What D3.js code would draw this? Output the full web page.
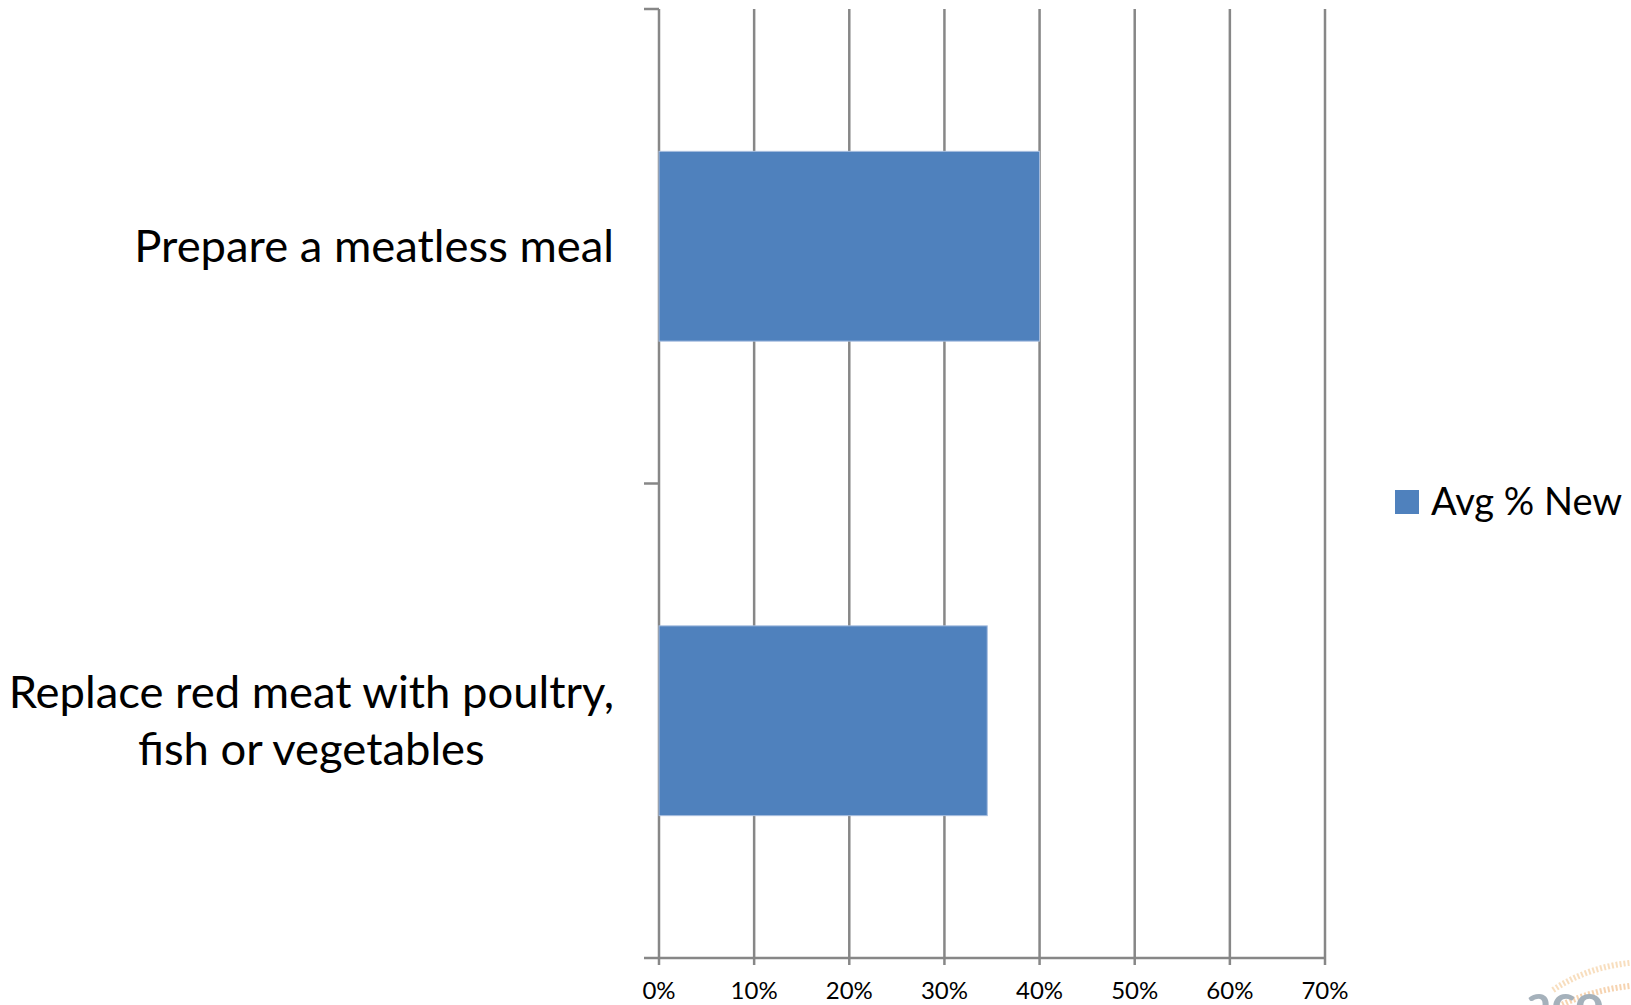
<!DOCTYPE html>
<html>
<head>
<meta charset="utf-8">
<script src="https://cdn.jsdelivr.net/npm/d3@7"></script>
<style>
  body { margin: 0; background: #fff; }
  svg { display: block; font-family: Lato, "Open Sans", sans-serif; }
</style>
</head>
<body>
<div id="chart"></div>
<script>
var categories = [
    ["Prepare a meatless meal"],
    ["Replace red meat with poultry,", "fish or vegetables"]
];
var values = [0.40, 0.345];
var seriesName = "Avg % New";
var tickValues = [0, 0.1, 0.2, 0.3, 0.4, 0.5, 0.6, 0.7];

var width = 1631, height = 1005;
var plotLeft = 659, plotRight = 1325, plotTop = 9, plotBottom = 958;
var gridColor = "#878787";
var barColor = "#4f81bd";

var svg = d3.select("#chart").append("svg")
    .attr("width", width)
    .attr("height", height);

var x = d3.scaleLinear().domain([0, 0.7]).range([plotLeft, plotRight]);
var y = d3.scaleBand()
    .domain(d3.range(categories.length))
    .range([plotTop, plotBottom])
    .paddingInner(0.6)
    .paddingOuter(0.3);

// vertical gridlines
svg.append("g").selectAll("line")
    .data(tickValues)
    .enter().append("line")
    .attr("x1", d => x(d)).attr("x2", d => x(d))
    .attr("y1", plotTop).attr("y2", plotBottom + 7)
    .attr("stroke", gridColor)
    .attr("stroke-width", 2.5);

// bottom axis line
svg.append("line")
    .attr("x1", plotLeft).attr("x2", plotRight)
    .attr("y1", plotBottom).attr("y2", plotBottom)
    .attr("stroke", gridColor)
    .attr("stroke-width", 2.5);

// category ticks at band edges
var edges = d3.range(categories.length + 1).map(i => plotTop + i * y.step());
svg.append("g").selectAll("line")
    .data(edges)
    .enter().append("line")
    .attr("x1", plotLeft - 15).attr("x2", plotLeft)
    .attr("y1", d => d).attr("y2", d => d)
    .attr("stroke", gridColor)
    .attr("stroke-width", 2.5);

// bars
svg.append("g").selectAll("rect")
    .data(values)
    .enter().append("rect")
    .attr("x", x(0))
    .attr("y", (d, i) => y(i))
    .attr("width", d => x(d) - x(0))
    .attr("height", y.bandwidth())
    .attr("fill", barColor)
    .attr("stroke", "#a7bedf")
    .attr("stroke-width", 1);

// x tick labels
svg.append("g").selectAll("text")
    .data(tickValues)
    .enter().append("text")
    .attr("x", d => x(d))
    .attr("y", 999)
    .attr("text-anchor", "middle")
    .attr("font-size", 24)
    .attr("fill", "#000")
    .text(d => d3.format(".0%")(d));

// category labels
var lineH = 57;
var labelRight = 614;
categories.forEach(function(lines, i) {
    var cy = y(i) + y.bandwidth() / 2;
    var g = svg.append("g");
    var t = g.selectAll("text")
        .data(lines)
        .enter().append("text")
        .attr("y", (d, j) => cy + (j - (lines.length - 1) / 2) * lineH)
        .attr("dy", "0.35em")
        .attr("font-size", 45.4)
        .attr("fill", "#000")
        .text(d => d);
    var maxW = 0;
    t.each(function() { maxW = Math.max(maxW, this.getComputedTextLength()); });
    t.attr("text-anchor", "middle").attr("x", labelRight - maxW / 2);
});

// legend
var legend = svg.append("g").attr("transform", "translate(1395,490)");
legend.append("rect")
    .attr("width", 24).attr("height", 24)
    .attr("fill", barColor);
legend.append("text")
    .attr("x", 36).attr("y", 12)
    .attr("dy", "0.35em")
    .attr("font-size", 38)
    .attr("fill", "#000")
    .text(seriesName);

// corner logo fragment
var logo = svg.append("g").attr("opacity", 0.55);
logo.append("path")
    .attr("d", "M1553,990 Q1590,965 1640,962")
    .attr("fill", "none")
    .attr("stroke", "#f3c48a")
    .attr("stroke-width", 6)
    .attr("stroke-dasharray", "2,2");
logo.append("path")
    .attr("d", "M1555,1008 Q1595,988 1640,985")
    .attr("fill", "none")
    .attr("stroke", "#f0b070")
    .attr("stroke-width", 6)
    .attr("stroke-dasharray", "2,2");
logo.append("text")
    .attr("x", 1526).attr("y", 1020)
    .attr("font-size", 50)
    .attr("font-weight", "bold")
    .attr("fill", "#5d7385")
    .text("aco");
</script>
</body>
</html>
